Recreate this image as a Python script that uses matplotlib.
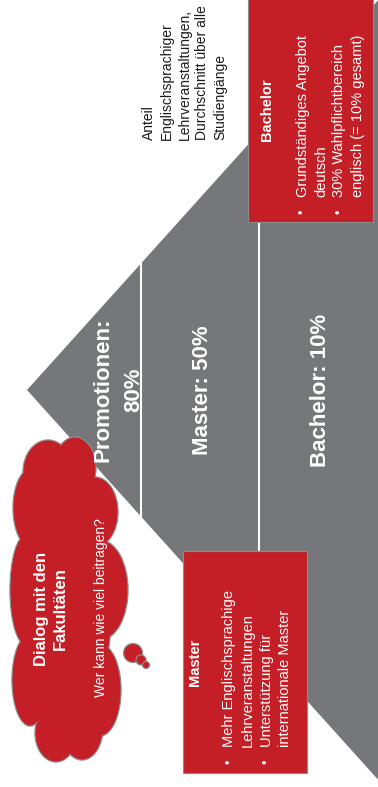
import matplotlib.pyplot as plt
from matplotlib.patches import Polygon, Rectangle, Ellipse, Circle

plt.rcParams['font.family'] = ['Liberation Sans', 'DejaVu Sans']

RED = '#C41F27'
GRAY = '#76777B'
EDGE = '#8C8C8C'

# Anteil englischsprachiger Lehrveranstaltungen je Stufe
level_names = ['Promotionen', 'Master', 'Bachelor']
level_shares = [80, 50, 10]

note_lines = ['Anteil', 'Englischsprachiger', 'Lehrveranstaltungen,',
              'Durchschnitt über alle', 'Studiengänge']

bachelor_title = 'Bachelor'
bachelor_bullets = [['Grundständiges Angebot', 'deutsch'],
                    ['30% Wahlpflichtbereich', 'englisch (= 10% gesamt)']]
master_title = 'Master'
master_bullets = [['Mehr Englischsprachige', 'Lehrveranstaltungen'],
                  ['Unterstützung für', 'internationale Master']]

cloud_title = ['Dialog mit den', 'Fakultäten']
cloud_question = 'Wer kann wie viel beitragen?'

# canvas in pixel units, y pointing down
W, H = 378, 787
fig = plt.figure(figsize=(W / 100, H / 100), dpi=100)
ax = fig.add_axes([0, 0, 1, 1])
ax.set_xlim(0, W)
ax.set_ylim(H, 0)
ax.axis('off')

apex = (27, 390)
slope = 1.11


def top_y(x):
    return apex[1] - (x - apex[0]) * slope


def bot_y(x):
    return apex[1] + (x - apex[0]) * slope


def vtext(x, y, s, size, ha='center', weight='normal', color='white', z=6):
    ax.text(x, y, s, rotation=90, rotation_mode='anchor', ha=ha,
            va='center_baseline', fontsize=size, fontweight=weight,
            color=color, zorder=z)


# pyramid (lying on its side)
ax.add_patch(Polygon([apex, (W, top_y(W)), (W, bot_y(W))], closed=True,
                     fc=GRAY, ec='none', zorder=1))
for xd in [141, 259]:
    ax.plot([xd, xd], [top_y(xd), bot_y(xd)], color='white', lw=1.5, zorder=2)

# level labels
label_x = [[100, 131], [200], [318]]
for i, (name, share) in enumerate(zip(level_names, level_shares)):
    if i == 0:
        lines = [f'{name}:', f'{share}%']
    else:
        lines = [f'{name}: {share}%']
    for x, line in zip(label_x[i], lines):
        vtext(x, apex[1], line, 16, weight='bold')

# note text top left
for k, line in enumerate(note_lines):
    vtext(147 + 18 * k, 140, line, 10, ha='left', color='#1a1a1a')


def box(x0, y0, w, h, title, title_pos, bullets, x_first, y_start):
    ax.add_patch(Rectangle((x0, y0), w, h, fc=RED, ec=EDGE, lw=0.8, zorder=3))
    vtext(title_pos[0], title_pos[1], title, 10.5, weight='bold')
    x = x_first
    for item in bullets:
        vtext(x, y_start + 15, '•', 9)
        for line in item:
            vtext(x, y_start, line, 10.5, ha='left')
            x += 18.5


box(248, -2, 125, 224, bachelor_title, (266, 110), bachelor_bullets, 301, 197)
box(183, 551, 124, 222, master_title, (193, 662), master_bullets, 228, 747)

# thought cloud
lobes = [((48, 472), 50, 64), ((75, 468), 42, 62), ((95, 512), 46, 70),
         ((100, 590), 56, 100), ((100, 690), 42, 92), ((82, 728), 42, 64),
         ((56, 733), 42, 58), ((30, 680), 36, 92), ((26, 590), 32, 110),
         ((32, 508), 38, 80), ((66, 600), 92, 260)]
for (c, w, h) in lobes:
    ax.add_patch(Ellipse(c, w, h, fc=RED, ec=EDGE, lw=1.0, zorder=3))
for (c, w, h) in lobes:
    ax.add_patch(Ellipse(c, w - 1.5, h - 1.5, fc=RED, ec='none', zorder=4))
for (c, r) in [((133, 653), 9.5), ((141, 660), 5), ((146, 665), 3.5)]:
    ax.add_patch(Circle(c, r, fc=RED, ec=EDGE, lw=0.9, zorder=4))

vtext(40, 609, cloud_title[0], 12, weight='bold')
vtext(59, 609, cloud_title[1], 12, weight='bold')
vtext(100, 608, cloud_question, 10)

fig.savefig('out.png', dpi=100)
